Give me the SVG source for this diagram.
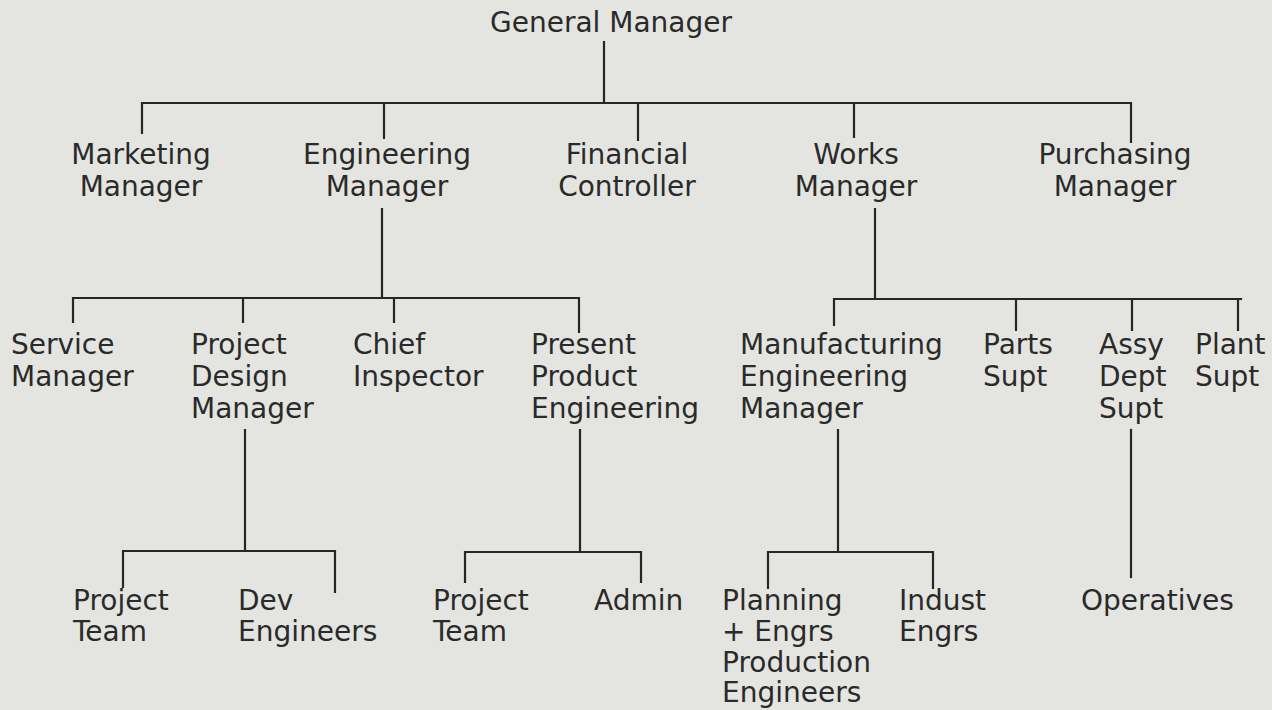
<svg xmlns="http://www.w3.org/2000/svg" width="1272" height="710" viewBox="0 0 1272 710">
  <style>
    .bg { fill: #e4e5e0; }
    text { font-family: "DejaVu Sans", "Liberation Sans", sans-serif; font-size: 28px; fill: #2a2a2a; }
    .c { text-anchor: middle; }
    .wire { fill: none; stroke: #262626; stroke-width: 2.2; stroke-linecap: square; }
  </style>
  <rect class="bg" x="0" y="0" width="1272" height="710"/>

  <!-- connectors -->
  <g id="connectors" class="wire">
    <!-- general manager to directors -->
    <path d="M604,42 V103 M142,103 H1131 M142,103 V133 M384,103 V138 M638,103 V140 M854,103 V137 M1131,103 V142"/>
    <!-- engineering manager branch -->
    <path d="M382,209 V298 M73,298 H579 M73,298 V322 M243,298 V322 M394,298 V322 M579,298 V332"/>
    <!-- works manager branch -->
    <path d="M875,209 V299 M834,299 H1241 M834,299 V325 M1016,299 V330 M1132,299 V330 M1238,299 V330"/>
    <!-- project design manager branch -->
    <path d="M245,430 V551 M123,551 H335 M123,551 V587 M335,551 V592"/>
    <!-- present product engineering branch -->
    <path d="M580,430 V552 M465,552 H641 M465,552 V582 M641,552 V582"/>
    <!-- manufacturing engineering manager branch -->
    <path d="M838,430 V552 M768,552 H933 M768,552 V588 M933,552 V588"/>
    <!-- assembly department branch -->
    <path d="M1131,430 V577"/>
  </g>

  <!-- top -->
  <g id="general-manager"><text class="c" x="611" y="32">General Manager</text></g>

  <!-- directors -->
  <g id="marketing-manager">
    <text class="c" x="141" y="164">Marketing</text><text class="c" x="141" y="196">Manager</text>
  </g>
  <g id="engineering-manager">
    <text class="c" x="387" y="164">Engineering</text><text class="c" x="387" y="196">Manager</text>
  </g>
  <g id="financial-controller">
    <text class="c" x="627" y="164">Financial</text><text class="c" x="627" y="196">Controller</text>
  </g>
  <g id="works-manager">
    <text class="c" x="856" y="164">Works</text><text class="c" x="856" y="196">Manager</text>
  </g>
  <g id="purchasing-manager">
    <text class="c" x="1115" y="164">Purchasing</text><text class="c" x="1115" y="196">Manager</text>
  </g>

  <!-- second level -->
  <g id="service-manager">
    <text x="11" y="354">Service</text><text x="11" y="386">Manager</text>
  </g>
  <g id="project-design-manager">
    <text x="191" y="354">Project</text><text x="191" y="386">Design</text><text x="191" y="418">Manager</text>
  </g>
  <g id="chief-inspector">
    <text x="353" y="354">Chief</text><text x="353" y="386">Inspector</text>
  </g>
  <g id="present-product-engineering">
    <text x="531" y="354">Present</text><text x="531" y="386">Product</text><text x="531" y="418">Engineering</text>
  </g>
  <g id="manufacturing-engineering-manager">
    <text x="740" y="354">Manufacturing</text><text x="740" y="386">Engineering</text><text x="740" y="418">Manager</text>
  </g>
  <g id="parts-supt">
    <text x="983" y="354">Parts</text><text x="983" y="386">Supt</text>
  </g>
  <g id="assy-dept-supt">
    <text x="1099" y="354">Assy</text><text x="1099" y="386">Dept</text><text x="1099" y="418">Supt</text>
  </g>
  <g id="plant-supt">
    <text x="1195" y="354">Plant</text><text x="1195" y="386">Supt</text>
  </g>

  <!-- third level -->
  <g id="project-team-design">
    <text x="73" y="610">Project</text><text x="73" y="641">Team</text>
  </g>
  <g id="dev-engineers">
    <text x="238" y="610">Dev</text><text x="238" y="641">Engineers</text>
  </g>
  <g id="project-team-product">
    <text x="433" y="610">Project</text><text x="433" y="641">Team</text>
  </g>
  <g id="admin">
    <text x="594" y="610">Admin</text>
  </g>
  <g id="planning-production-engineers">
    <text x="722" y="610">Planning</text><text x="722" y="641">+ Engrs</text><text x="722" y="672">Production</text><text x="722" y="702">Engineers</text>
  </g>
  <g id="indust-engrs">
    <text x="899" y="610">Indust</text><text x="899" y="641">Engrs</text>
  </g>
  <g id="operatives">
    <text x="1081" y="610">Operatives</text>
  </g>
</svg>
